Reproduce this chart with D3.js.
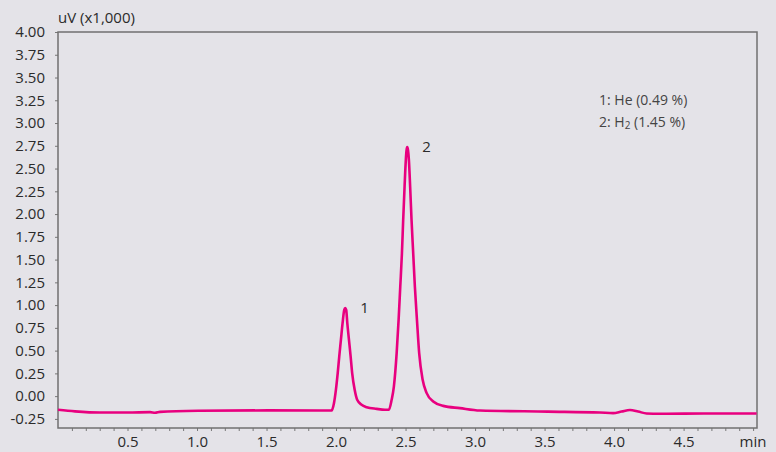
<!DOCTYPE html>
<html>
<head>
<meta charset="utf-8">
<script src="https://cdn.jsdelivr.net/npm/d3@7"></script>
<style>
  html, body { margin: 0; padding: 0; background: #e4e3e8; }
  svg { display: block; font-family: "Open Sans", sans-serif; }
</style>
</head>
<body>
<svg id="chart" width="776" height="452"></svg>
<script>
// chromatogram trace: [time (min), signal (uV x1,000)]
var trace = [
    [0.000, -0.150], [0.122, -0.167], [0.302, -0.180], [0.503, -0.180],
    [0.662, -0.176], [0.698, -0.183], [0.734, -0.173], [1.007, -0.161],
    [1.510, -0.156], [1.884, -0.158], [1.968, -0.158],
    // peak 1
    [1.985, -0.077], [1.999, 0.069], [2.012, 0.253], [2.023, 0.435],
    [2.035, 0.618], [2.047, 0.802], [2.059, 0.948], [2.066, 0.967],
    [2.073, 0.948], [2.081, 0.802], [2.093, 0.618], [2.105, 0.435],
    [2.116, 0.253], [2.134, 0.069], [2.152, -0.040], [2.184, -0.095],
    [2.220, -0.121], [2.292, -0.140], [2.352, -0.150], [2.380, -0.150],
    // peak 2
    [2.400, -0.040], [2.416, 0.105], [2.436, 0.472], [2.450, 0.838],
    [2.462, 1.204], [2.474, 1.571], [2.483, 1.937], [2.493, 2.303],
    [2.502, 2.596], [2.507, 2.700], [2.512, 2.735], [2.518, 2.700],
    [2.524, 2.596], [2.533, 2.303],
    [2.543, 1.937], [2.555, 1.571], [2.567, 1.204], [2.582, 0.838],
    [2.598, 0.472], [2.623, 0.179], [2.652, 0.033], [2.699, -0.059],
    [2.771, -0.107], [2.891, -0.132], [3.035, -0.158], [3.524, -0.170],
    [3.898, -0.180], [3.993, -0.187], [4.054, -0.169], [4.114, -0.152],
    [4.173, -0.169], [4.234, -0.191], [4.329, -0.194], [4.689, -0.191],
    [5.025, -0.191]
];

var peaks = [
    {label: "1", time: 2.066, value: 0.967},
    {label: "2", time: 2.512, value: 2.735}
];

var legendLines = [
    {pre: "1: He (0.49 %)", sub: null, post: null},
    {pre: "2: H", sub: "2", post: " (1.45 %)"}
];

var yTicks = [-0.25, 0, 0.25, 0.5, 0.75, 1, 1.25, 1.5, 1.75, 2, 2.25, 2.5, 2.75, 3, 3.25, 3.5, 3.75, 4];
var xMinor = d3.range(1, 51).map(function(i) { return i / 10; });

var yTitle = "uV (x1,000)";
var xTitle = "min";

function main() {
    var svg = d3.select("#chart");
    var left = 58, right = 757, top = 32, bottom = 428;

    var x = d3.scaleLinear().domain([0, 5.028]).range([left, right]);
    var y = d3.scaleLinear().domain([-0.35, 4.0]).range([bottom, top]);

    var fmt = d3.formatLocale({decimal: ".", thousands: ",", grouping: [3], currency: ["", ""], minus: "-"});

    svg.append("rect")
        .attr("width", 776).attr("height", 452)
        .attr("fill", "#e4e3e8");

    // y axis
    var yAxis = d3.axisLeft(y)
        .tickValues(yTicks)
        .tickFormat(fmt.format(".2f"))
        .tickSize(3)
        .tickPadding(10);
    var gy = svg.append("g")
        .attr("transform", "translate(" + left + ",0)")
        .call(yAxis);

    // x axis: minor ticks every 0.1, labels on the halves
    var xAxis = d3.axisBottom(x)
        .tickValues(xMinor)
        .tickFormat(function(d) {
            var r = Math.round(d * 10);
            return r % 5 === 0 && r < 50 ? fmt.format(".1f")(d) : "";
        })
        .tickSize(3)
        .tickPadding(5);
    var gx = svg.append("g")
        .attr("transform", "translate(0," + bottom + ")")
        .call(xAxis);

    [gx, gy].forEach(function(g) {
        g.select(".domain").remove();
        g.selectAll(".tick line").attr("stroke", "#777").attr("stroke-width", 1);
        g.selectAll(".tick text")
            .attr("fill", "#2b2b2b")
            .style("font-size", "15px")
            .style("font-family", "'Open Sans', sans-serif");
    });

    // frame
    svg.append("rect")
        .attr("x", left).attr("y", top)
        .attr("width", right - left).attr("height", bottom - top)
        .attr("fill", "none")
        .attr("stroke", "#707070")
        .attr("stroke-width", 1.5);

    svg.append("text")
        .attr("x", left).attr("y", 23)
        .attr("fill", "#2b2b2b")
        .style("font-size", "15px")
        .text(yTitle);

    svg.append("text")
        .attr("x", 753).attr("y", 447)
        .attr("text-anchor", "middle")
        .attr("fill", "#2b2b2b")
        .style("font-size", "15px")
        .text(xTitle);

    // trace
    var line = d3.line()
        .x(function(d) { return x(d[0]); })
        .y(function(d) { return y(d[1]); })
        .curve(d3.curveMonotoneX);

    svg.append("path")
        .datum(trace)
        .attr("d", line)
        .attr("fill", "none")
        .attr("stroke", "#e8007f")
        .attr("stroke-width", 2.6)
        .attr("stroke-linejoin", "round");

    // peak numbers
    svg.selectAll(".peak")
        .data(peaks)
        .enter().append("text")
        .attr("class", "peak")
        .attr("x", function(d) { return x(d.time) + 15; })
        .attr("y", function(d) { return y(d.value) + 5; })
        .attr("fill", "#2b2b2b")
        .style("font-size", "15px")
        .text(function(d) { return d.label; });

    // legend
    legendLines.forEach(function(item, i) {
        var t = svg.append("text")
            .attr("x", 599).attr("y", 105 + i * 22)
            .attr("fill", "#444")
            .style("font-size", "14px");
        t.append("tspan").text(item.pre);
        if (item.sub) {
            t.append("tspan").attr("dy", 2).style("font-size", "10px").text(item.sub);
            t.append("tspan").attr("dy", -2).text(item.post);
        }
    });
}

window.onload = main;
</script>
</body>
</html>
